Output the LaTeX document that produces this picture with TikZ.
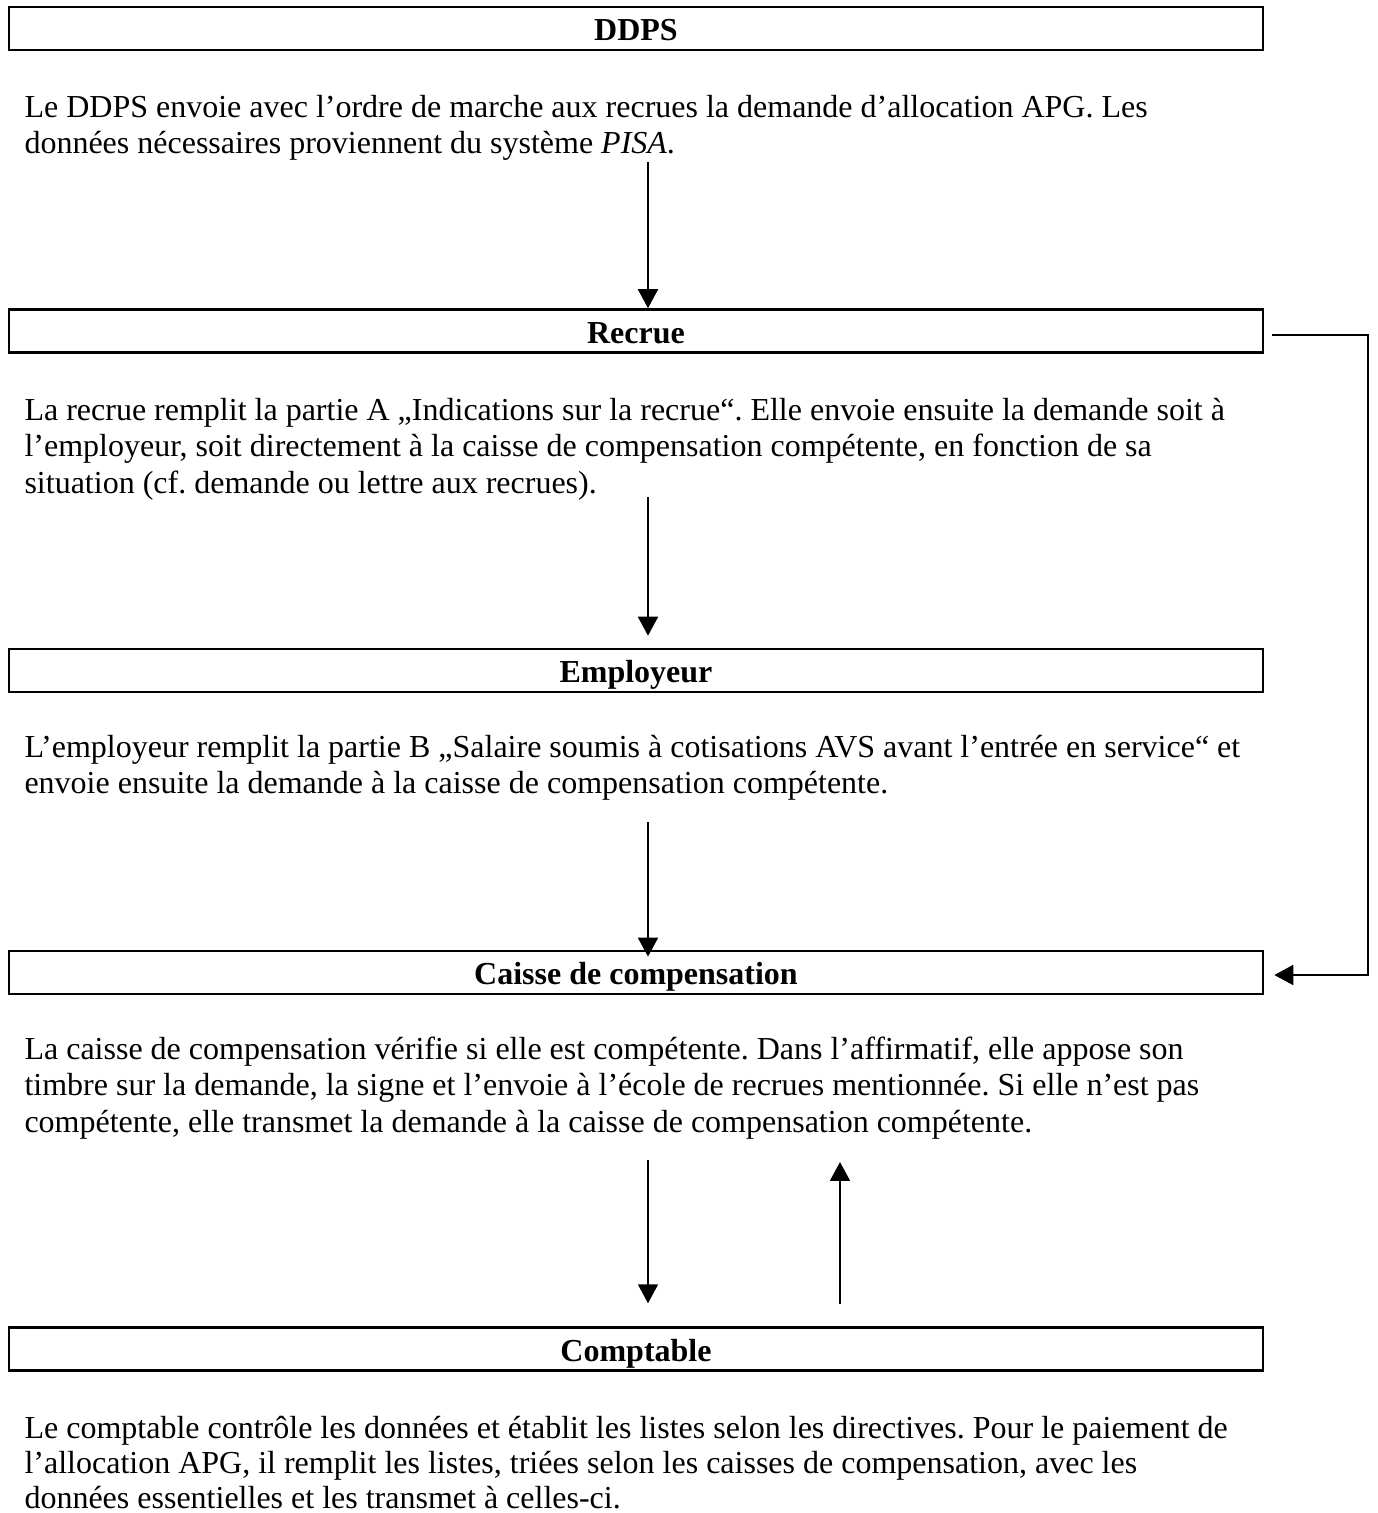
\documentclass[tikz,border=0pt]{standalone}
\usepackage{fontspec}
\setmainfont{Liberation Serif}
\usetikzlibrary{arrows.meta}
\newcommand\mysize{\fontsize{12pt}{13.8pt}\selectfont\frenchspacing}
\begin{document}
\begin{tikzpicture}[x=0.375pt,y=-0.375pt,
  box/.style={draw,line width=1pt,minimum width=470.25pt,minimum height=16.125pt,
    inner sep=0pt,font=\mysize\bfseries,text height=9pt,text depth=0pt},
  para/.style={anchor=base west,inner sep=0pt,font=\mysize},
  arr/.style={line width=0.65pt,-{Triangle[width=7.5pt,length=7.1pt]}}]
\useasboundingbox[fill=white] (0,0) rectangle (1378,1513);

\node[box] (ddps) at (636,28.5) {DDPS};
\node[box] (recrue) at (636,331) {Recrue};
\node[box] (employeur) at (636,670.5) {Employeur};
\node[box] (caisse) at (636,972.5) {Caisse de compensation};
\node[box] (comptable) at (636,1349) {Comptable};

\node[para] (p1) at (24,117) {\vtop{%
\hbox{Le DDPS envoie avec l’ordre de marche aux recrues la demande d’allocation APG. Les}
\hbox{données nécessaires proviennent du système \textit{PISA}.}}};

\node[para] (p2) at (24,420) {\vtop{%
\hbox{La recrue remplit la partie A „Indications sur la recrue“. Elle envoie ensuite la demande soit à}
\hbox{l’employeur, soit directement à la caisse de compensation compétente, en fonction de sa}
\hbox{situation (cf. demande ou lettre aux recrues).}}};

\node[para] (p3) at (24,757) {\vtop{%
\hbox{L’employeur remplit la partie B „Salaire soumis à cotisations AVS avant l’entrée en service“ et}
\hbox{envoie ensuite la demande à la caisse de compensation compétente.}}};

\node[para] (p4) at (24,1059) {\vtop{%
\hbox{La caisse de compensation vérifie si elle est compétente. Dans l’affirmatif, elle appose son}
\hbox{timbre sur la demande, la signe et l’envoie à l’école de recrues mentionnée. Si elle n’est pas}
\hbox{compétente, elle transmet la demande à la caisse de compensation compétente.}}};

\node[para] (p5) at (24,1438) {\vtop{\baselineskip=13.3pt
\hbox{Le comptable contrôle les données et établit les listes selon les directives. Pour le paiement de}
\hbox{l’allocation APG, il remplit les listes, triées selon les caisses de compensation, avec les}
\hbox{données essentielles et les transmet à celles-ci.}}};

\coordinate (a1) at (648,162);
\draw[arr] (a1) -- (a1 |- recrue.north);
\coordinate (a2) at (648,497);
\draw[arr,shorten >=4.5pt] (a2) -- (a2 |- employeur.north);
\coordinate (a3) at (648,822);
\draw[arr,shorten >=-2.6pt] (a3) -- (a3 |- caisse.north);
\coordinate (a4) at (648,1160);
\draw[arr,shorten >=8.6pt] (a4) -- (a4 |- comptable.north);
\coordinate (a5) at (840,1162);
\draw[arr,shorten <=8.25pt] (a5 |- comptable.north) -- (a5);

\coordinate (s1) at (1272,335);
\coordinate (s2) at (1368,335);
\draw[arr,shorten >=3.75pt] (s1) -- (s2) |- ([yshift=-0.94pt]caisse.east);
\end{tikzpicture}
\end{document}
